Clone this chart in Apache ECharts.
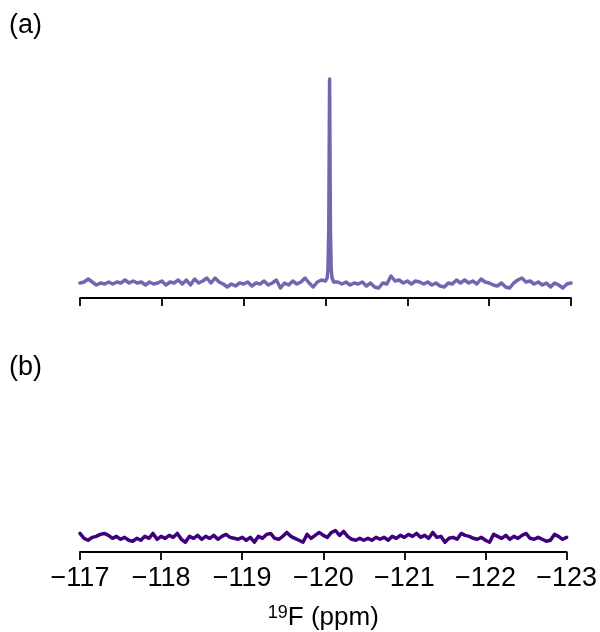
<!DOCTYPE html>
<html>
<head>
<meta charset="utf-8">
<script src="https://cdn.jsdelivr.net/npm/echarts@6/dist/echarts.min.js"></script>
<style>html,body{margin:0;padding:0;background:#fff;}#c{width:600px;height:632px;}</style>
</head>
<body>
<div id="c"></div>
<script>
// x ticks (ppm)
const xTicks = [-117, -118, -119, -120, -121, -122, -123];
// Baseline sample spacing 0.05 ppm from -117.00 to -123.00
const topLeft = [15,16,19,16,13,15,14,16,14,16,15,18,15,17,15,16,13,16,14,15,
  17,13,16,15,18,14,18,13,19,15,17,20,15,20,16,14,11,14,12,15,
  14,16,12,15,14,17,13,15,18,10,15,13,17,14,16,20,15,11,16,18,16];
// peak region (ppm, intensity)
const peakPpm = [-120.00,-120.02,-120.03,-120.04,-120.05,-120.06,-120.07,-120.08,-120.10];
const peakVal = [17,20,28,70,219,70,28,20,16];
const topRight = [16,14,16,13,15,14,16,12,15,11,10,15,14,22,17,18,15,
  17,14,17,16,14,16,13,15,12,11,15,14,18,15,18,15,17,14,19,16,
  15,13,12,15,11,10,15,18,20,16,17,14,16,13,15,11,15,13,10,14,15];
const bottomVals = [19,14,12,15,16,18,19,17,14,16,13,15,12,11,14,12,16,14,19,13,
  16,14,17,15,19,13,10,16,14,17,13,16,14,17,13,16,18,15,14,13,
  15,12,15,10,16,14,18,19,14,13,16,20,16,14,12,10,18,14,17,20,
  17,15,20,22,17,21,16,13,12,14,12,14,12,15,13,15,12,16,14,17,
  15,18,16,19,15,17,14,20,15,16,10,14,15,13,19,17,16,14,13,15,
  12,10,18,16,14,17,13,16,14,17,19,14,13,15,13,11,12,18,16,13,15];

function r2(v){return Math.round(v*100)/100;}
const topData = [];
topLeft.forEach((v,i)=>topData.push([r2(-117 - 0.05*i), v]));
topData.pop();
peakPpm.forEach((p,i)=>topData.push([p, peakVal[i]]));
topRight.forEach((v,i)=>topData.push([r2(-120.15 - 0.05*i), v]));
const bottomData = bottomVals.map((v,i)=>[r2(-117 - 0.05*i), v]);

const font = '"Liberation Sans", Arial, sans-serif';
function xAxis(idx, showLabels){
  return {
    type:'value', gridIndex:idx, min:-123, max:-117, interval:1, inverse:true,
    axisLine:{show:true, lineStyle:{color:'#000', width:1.8}},
    axisTick:{show:true, length:8, lineStyle:{color:'#000', width:1.8}},
    splitLine:{show:false},
    axisLabel:{show:showLabels, color:'#000', fontSize:27, fontFamily:font, margin:13,
      formatter:v=>String(v).replace('-', '\u2212')},
    name: showLabels ? '{sup|19}{n|F (ppm)}' : '',
    nameLocation:'middle', nameGap:52,
    nameTextStyle:{rich:{sup:{fontSize:18, fontFamily:font, color:'#000', verticalAlign:'top', padding:[0,0,10,0]}, n:{fontSize:26, fontFamily:font, color:'#000'}}}
  };
}
const chart = echarts.init(document.getElementById('c'), null, {renderer:'canvas'});
chart.setOption({
  animation:false,
  backgroundColor:'#fff',
  grid:[{left:80, right:29, top:77, height:221},{left:80, right:29, top:336, height:221}],
  xAxis:[xAxis(0,false), xAxis(1,true)],
  yAxis:[{type:'value', gridIndex:0, min:0, max:221, show:false},{type:'value', gridIndex:1, min:0, max:221, show:false}],
  graphic:[
    {type:'text', left:9, top:12, style:{text:'(a)', fontSize:27, fontFamily:font, fill:'#000'}},
    {type:'text', left:9, top:354, style:{text:'(b)', fontSize:27, fontFamily:font, fill:'#000'}}
  ],
  series:[
    {type:'line', xAxisIndex:0, yAxisIndex:0, data:topData, showSymbol:false, clip:false,
      lineStyle:{color:'#7366b0', width:3.5, join:'round', cap:'round'}},
    {type:'line', xAxisIndex:1, yAxisIndex:1, data:bottomData, showSymbol:false, clip:false,
      lineStyle:{color:'#3f007d', width:3.5, join:'round', cap:'round'}}
  ]
});
</script>
</body>
</html>
